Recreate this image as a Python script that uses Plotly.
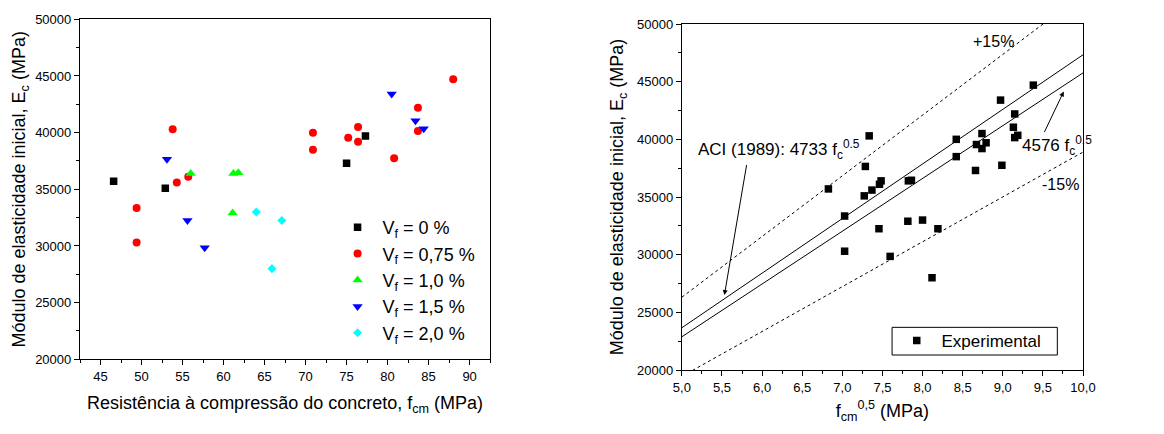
import numpy as np
import plotly.graph_objects as go

FONT = "Liberation Sans, Arial, sans-serif"

# ---- Left panel data: f_cm (MPa) vs E_c (MPa) by fibre volume ----
fcm_0 = [46.6, 52.9, 75.0, 77.3]
ec_0 = [35700, 35100, 37300, 39700]

fcm_075 = [53.8, 49.4, 49.4, 54.3, 55.7, 70.9, 70.9, 75.2, 76.4, 76.4, 80.8, 83.7, 83.7, 88.0]
ec_075 = [40300, 33350, 30300, 35600, 36100, 40000, 38500, 39550, 40500, 39200, 37750, 42200, 40150, 44700]

fcm_10 = [56.0, 61.2, 61.8, 61.1]
ec_10 = [36400, 36400, 36450, 32900]

fcm_15 = [53.1, 55.6, 57.7, 80.5, 83.4, 84.4]
ec_15 = [37650, 32250, 29850, 43400, 41050, 40350]

fcm_20 = [64.0, 67.1, 65.9]
ec_20 = [33000, 32250, 28000]

series_names = ["V<sub>f</sub> = 0 %", "V<sub>f</sub> = 0,75 %", "V<sub>f</sub> = 1,0 %",
                "V<sub>f</sub> = 1,5 %", "V<sub>f</sub> = 2,0 %"]

# ---- Right panel: model coefficients ----
coef_aci = 4733
coef_fit = 4576
band = 0.15
xline = [5.0, 10.0]

fig = go.Figure()

groups = [
    (fcm_0, ec_0, "square", 7.5, "#000000"),
    (fcm_075, ec_075, "circle", 8, "#ff0000"),
    (fcm_10, ec_10, "triangle-up", 9, "#00ff00"),
    (fcm_15, ec_15, "triangle-down", 9, "#0000ff"),
    (fcm_20, ec_20, "diamond", 7, "#00ffff"),
]
for (xs, ys, sym, sz, col), nm in zip(groups, series_names):
    fig.add_trace(go.Scatter(x=xs, y=ys, mode="markers", name="&nbsp;" + nm,
                             marker=dict(symbol=sym, size=sz, color=col, line=dict(width=0)),
                             xaxis="x", yaxis="y", legend="legend"))

# Right panel lines
xl = np.array(xline)
for coef, dash in [(coef_aci, "solid"), (coef_fit, "solid"),
                   ((1 + band) * coef_fit, "3px,3px"), ((1 - band) * coef_fit, "3px,3px")]:
    fig.add_trace(go.Scatter(x=xl, y=coef * xl, mode="lines", showlegend=False,
                             line=dict(color="black", width=1, dash=dash), xaxis="x2", yaxis="y2"))

all_fcm = fcm_0 + fcm_075 + fcm_10 + fcm_15 + fcm_20
all_ec = ec_0 + ec_075 + ec_10 + ec_15 + ec_20
fig.add_trace(go.Scatter(x=np.sqrt(all_fcm), y=all_ec, mode="markers", name="&nbsp;Experimental",
                         marker=dict(symbol="square", size=7.5, color="black", line=dict(width=0)),
                         xaxis="x2", yaxis="y2", legend="legend2"))

ax_common = dict(showline=True, linecolor="black", linewidth=1.2, mirror=True,
                 ticks="outside", ticklen=5, tickwidth=1, tickcolor="black",
                 showgrid=False, zeroline=False, automargin=False, tickangle=0,
                 tickfont=dict(size=13, color="black", family=FONT))

W, H = 1164, 434
OFF = 8  # page body offset
# plot-area bounds in reference-screen pixels
L_ref, R_ref, T_ref, B_ref = 80, 1082.7, 19, 370
ml, mt = L_ref - OFF, T_ref - OFF
mr, mb = W - (R_ref - OFF), H - (B_ref - OFF)
pw, ph = R_ref - L_ref, B_ref - T_ref

def xd(a, b):
    return [(a - L_ref) / pw, (b - L_ref) / pw]

def yd(top, bottom):
    return [(B_ref - bottom) / ph, (B_ref - top) / ph]

def px(x):
    return (x - L_ref) / pw

def py(y):
    return (B_ref - y) / ph

fig.update_layout(
    width=W, height=H,
    margin=dict(l=ml, r=mr, t=mt, b=mb, autoexpand=False),
    paper_bgcolor="white", plot_bgcolor="white",
    separators=",.",
    font=dict(family=FONT, color="black"),
    xaxis=dict(ax_common, domain=xd(80, 490), range=[42.5, 92.5], tick0=45, dtick=5,
               minor=dict(dtick=2.5, ticklen=3, ticks="outside", tickcolor="black"),
               title=dict(text="Resistência à compressão do concreto, f<sub>cm</sub> (MPa)",
                          font=dict(size=18), standoff=13), anchor="y"),
    yaxis=dict(ax_common, domain=yd(19.3, 359.3), range=[20000, 50000], dtick=5000, tickformat="d",
               minor=dict(dtick=2500, ticklen=3, ticks="outside", tickcolor="black"),
               title=dict(text="Módulo de elasticidade inicial, E<sub>c</sub> (MPa)",
                          font=dict(size=18), standoff=4), anchor="x"),
    xaxis2=dict(ax_common, domain=xd(681.7, 1082.7), range=[5, 10], tick0=5, dtick=0.5, tickformat=".1f",
                minor=dict(dtick=0.25, ticklen=3, ticks="outside", tickcolor="black"),
                title=dict(text="f<sub>cm</sub><sup>0,5</sup> (MPa)", font=dict(size=18), standoff=10),
                anchor="y2"),
    yaxis2=dict(ax_common, domain=yd(24, 370), range=[20000, 50000], dtick=5000, tickformat="d",
                minor=dict(dtick=2500, ticklen=3, ticks="outside", tickcolor="black"),
                title=dict(text="Módulo de elasticidade inicial, E<sub>c</sub> (MPa)",
                           font=dict(size=18), standoff=8),
                anchor="x2"),
    legend=dict(x=px(337.5), y=py(280), xanchor="left", yanchor="middle",
                bgcolor="rgba(0,0,0,0)", borderwidth=0,
                font=dict(size=18, family=FONT), tracegroupgap=0),
    legend2=dict(x=px(896.5), y=py(341), xanchor="left", yanchor="middle",
                 bgcolor="rgba(0,0,0,0)", borderwidth=0,
                 font=dict(size=17, family=FONT)),
    shapes=[dict(type="rect", xref="x2", yref="y2", x0=7.62, x1=9.68, y0=21300, y1=23700,
                 line=dict(color="black", width=1), fillcolor="rgba(0,0,0,0)", layer="below")],
    annotations=[
        dict(x=5.53, y=26500, ax=5.81, ay=37900, xref="x2", yref="y2", axref="x2", ayref="y2",
             text="", showarrow=True, arrowhead=2, arrowsize=1, arrowwidth=1, arrowcolor="black",
             standoff=0),
        dict(x=9.76, y=44150, ax=9.51, ay=40500, xref="x2", yref="y2", axref="x2", ayref="y2",
             text="", showarrow=True, arrowhead=2, arrowsize=1, arrowwidth=1, arrowcolor="black",
             standoff=0),
        dict(x=5.18, y=39100, xref="x2", yref="y2", xanchor="left", yanchor="middle",
             text="ACI (1989): 4733 f<sub>c</sub><sup>0.5</sup>", showarrow=False,
             font=dict(size=17, family=FONT)),
        dict(x=9.21, y=39500, xref="x2", yref="y2", xanchor="left", yanchor="middle",
             text="4576 f<sub>c</sub><sup>0.5</sup>", showarrow=False,
             font=dict(size=17, family=FONT)),
        dict(x=8.89, y=48450, xref="x2", yref="y2", xanchor="center", yanchor="middle",
             text="+15%", showarrow=False, font=dict(size=16, family=FONT)),
        dict(x=9.72, y=36100, xref="x2", yref="y2", xanchor="center", yanchor="middle",
             text="-15%", showarrow=False, font=dict(size=16, family=FONT)),
    ],
)

fig.write_html("out.html")
